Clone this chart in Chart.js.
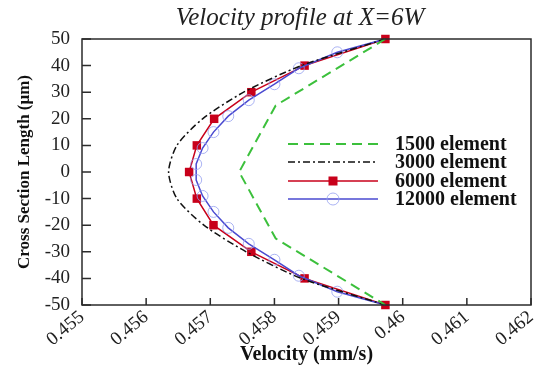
<!DOCTYPE html>
<html>
<head>
<meta charset="utf-8">
<script src="https://cdn.jsdelivr.net/npm/chart.js@4/dist/chart.umd.min.js"></script>
<style>
  body { margin: 0; background: #fff; }
</style>
</head>
<body>
<canvas id="myChart" width="537" height="367"></canvas>
<script>
// data
const yMain = [50, 40, 30, 20, 10, 0, -10, -20, -30, -40, -50];
const v3000 = [0.45973, 0.45842, 0.45752, 0.45688, 0.45648, 0.45635, 0.45648, 0.4569, 0.45756, 0.45842, 0.45973];
const v6000 = [0.45973, 0.45847, 0.45764, 0.45706, 0.45679, 0.45667, 0.45679, 0.45705, 0.45764, 0.45847, 0.45973];

const y1500 = [50, 25, 0, -25, -50];
const v1500 = [0.45973, 0.45802, 0.45745, 0.45802, 0.45973];

const y12000 = [50, 45, 39, 33, 27, 21, 15, 9, 3, -3, -9, -15, -21, -27, -33, -39, -45, -50];
const v12000 = [0.45973, 0.45898, 0.45838, 0.458, 0.4576, 0.45728, 0.45705, 0.45688, 0.45678,
                0.45678, 0.45688, 0.45705, 0.45728, 0.4576, 0.458, 0.45838, 0.45898, 0.45973];

const seriesNames = ['1500 element', '3000 element', '6000 element', '12000 element'];
const xTicks = [0.455, 0.456, 0.457, 0.458, 0.459, 0.46, 0.461, 0.462];
const yTicks = [50, 40, 30, 20, 10, 0, -10, -20, -30, -40, -50];
const titleText = 'Velocity profile at X=6W';

const pts = (xs, ys) => xs.map((x, i) => ({x: x, y: ys[i]}));

const serif = "'Liberation Serif', 'Times New Roman', serif";
const green = '#3cc03c';
const red = '#c8001a';
const blue = '#4a4ad0';
const circ = 'rgba(150,160,240,0.8)';

// title over the plot, inside ticks, frame and legend
const extras = {
  id: 'extras',
  afterDatasetsDraw(chart) {
    const ctx = chart.ctx;
    const a = chart.chartArea;
    const xs = chart.scales.x, ys = chart.scales.y;
    ctx.save();
    ctx.strokeStyle = '#2b2b2b';
    ctx.lineWidth = 1.5;
    ctx.strokeRect(a.left, a.top, a.right - a.left, a.bottom - a.top);
    ctx.beginPath();
    xTicks.forEach(t => {
      const p = xs.getPixelForValue(t);
      ctx.moveTo(p, a.bottom); ctx.lineTo(p, a.bottom - 7);
    });
    yTicks.forEach(t => {
      const p = ys.getPixelForValue(t);
      ctx.moveTo(a.left, p); ctx.lineTo(a.left + 9, p);
    });
    ctx.stroke();

    ctx.fillStyle = '#222';
    ctx.font = "italic 25px " + serif;
    ctx.textAlign = 'center';
    ctx.textBaseline = 'middle';
    ctx.fillText(titleText, 300, 18);

    // legend
    const styles = [
      {c: green, w: 2, d: [10, 6]},
      {c: '#111', w: 1.5, d: [7, 3, 2, 3]},
      {c: red, w: 1.5, d: [], m: 'rect'},
      {c: blue, w: 1.5, d: [], m: 'circle'}
    ];
    const rows = [144, 162, 181, 199];
    ctx.font = "bold 20px " + serif;
    ctx.textAlign = 'left';
    styles.forEach((s, i) => {
      const y = rows[i];
      ctx.beginPath();
      ctx.setLineDash(s.d);
      ctx.strokeStyle = s.c;
      ctx.lineWidth = s.w;
      ctx.moveTo(288, y); ctx.lineTo(378, y);
      ctx.stroke();
      ctx.setLineDash([]);
      if (s.m === 'rect') {
        ctx.fillStyle = red;
        ctx.fillRect(333 - 4.5, y - 4.5, 9, 9);
      } else if (s.m === 'circle') {
        ctx.beginPath();
        ctx.strokeStyle = circ;
        ctx.lineWidth = 1;
        ctx.arc(333, y, 6, 0, Math.PI * 2);
        ctx.stroke();
      }
      ctx.fillStyle = '#111';
      ctx.fillText(seriesNames[i], 395, y + 1);
    });
    ctx.restore();
  }
};

const ctx = document.getElementById('myChart');

new Chart(ctx, {
  type: 'scatter',
  data: {
    datasets: [
      {
        label: seriesNames[0],
        data: pts(v1500, y1500),
        showLine: true,
        borderColor: green,
        borderWidth: 2,
        borderDash: [10, 6],
        pointRadius: 0,
        clip: false
      },
      {
        label: seriesNames[1],
        data: pts(v3000, yMain),
        showLine: true,
        borderColor: '#111',
        borderWidth: 1.5,
        borderDash: [7, 3, 2, 3],
        tension: 0.25,
        pointRadius: 0,
        clip: false
      },
      {
        label: seriesNames[3],
        data: pts(v12000, y12000),
        showLine: true,
        borderColor: blue,
        borderWidth: 1.5,
        pointStyle: 'circle',
        pointRadius: y12000.map(v => Math.abs(v) === 50 ? 0 : 5.5),
        pointBorderColor: circ,
        pointBackgroundColor: 'rgba(0,0,0,0)',
        pointBorderWidth: 1,
        clip: false
      },
      {
        label: seriesNames[2],
        data: pts(v6000, yMain),
        showLine: true,
        borderColor: red,
        borderWidth: 1.5,
        pointStyle: 'rect',
        pointRadius: 6,
        pointBackgroundColor: red,
        pointBorderColor: red,
        pointBorderWidth: 0,
        clip: false
      }
    ]
  },
  options: {
    responsive: false,
    animation: false,
    layout: { padding: { left: 0, right: 0, top: 39, bottom: 0 } },
    plugins: {
      legend: { display: false },
      tooltip: { enabled: false },
      title: { display: false }
    },
    scales: {
      x: {
        type: 'linear',
        min: 0.455,
        max: 0.462,
        afterFit: s => { s.height = 62; s.paddingRight = 0; },
        afterBuildTicks: s => { s.ticks = xTicks.map(v => ({value: v})); },
        grid: { display: false },
        border: { display: false },
        ticks: {
          autoSkip: false,
          minRotation: 40,
          maxRotation: 40,
          padding: -7,
          color: '#222',
          font: { family: serif, size: 19 },
          callback: v => String(+v.toFixed(3))
        },
        title: {
          display: true,
          text: 'Velocity (mm/s)',
          color: '#111',
          font: { family: serif, size: 20, weight: 'bold' },
          padding: { top: 0, bottom: 0 }
        }
      },
      y: {
        type: 'linear',
        min: -50,
        max: 50,
        afterFit: s => { s.width = 82; },
        afterBuildTicks: s => { s.ticks = yTicks.map(v => ({value: v})); },
        grid: { display: false },
        border: { display: false },
        ticks: {
          autoSkip: false,
          padding: 4,
          color: '#222',
          font: { family: serif, size: 19 }
        },
        title: {
          display: true,
          text: 'Cross Section Length (\u03bcm)',
          color: '#111',
          font: { family: serif, size: 17, weight: 'bold' },
          padding: { top: 14, bottom: 0 }
        }
      }
    }
  },
  plugins: [extras]
});
</script>
</body>
</html>
